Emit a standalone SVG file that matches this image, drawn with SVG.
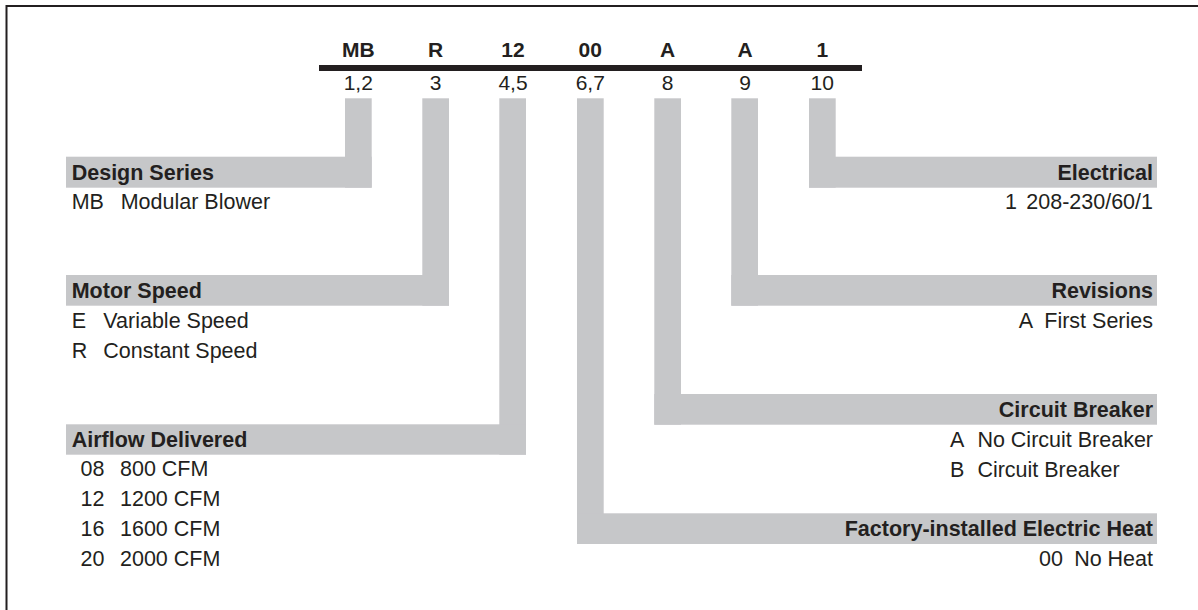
<svg xmlns="http://www.w3.org/2000/svg" width="1198" height="610" viewBox="0 0 1198 610">
<style>
text{font-family:"Liberation Sans",Arial,sans-serif;fill:#231f20;font-size:21.5px}
.b{font-weight:bold}
.code{font-size:21px}
.band{fill:#c6c7c9}
.e{text-anchor:end}
.m{text-anchor:middle}
</style>
<rect width="1198" height="610" fill="#fff"/>
<path d="M6.5,610 V6 H1198" fill="none" stroke="#231f20" stroke-width="2"/>
<g id="model-code">
<rect x="319" y="65" width="543" height="6" fill="#231f20"/>
<g class="code">
<text class="b m code" x="358.3" y="57.3">MB</text>
<text class="b m code" x="435.7" y="57.3">R</text>
<text class="b m code" x="513" y="57.3">12</text>
<text class="b m code" x="590.3" y="57.3">00</text>
<text class="b m code" x="667.7" y="57.3">A</text>
<text class="b m code" x="745" y="57.3">A</text>
<text class="b m code" x="822.3" y="57.3">1</text>
<text class="m code" x="358.3" y="89.5">1,2</text>
<text class="m code" x="435.7" y="89.5">3</text>
<text class="m code" x="513" y="89.5">4,5</text>
<text class="m code" x="590.3" y="89.5">6,7</text>
<text class="m code" x="667.7" y="89.5">8</text>
<text class="m code" x="745" y="89.5">9</text>
<text class="m code" x="822.3" y="89.5">10</text>
</g>
</g>
<g id="connectors" class="band">
<rect x="345" y="98.3" width="26.7" height="89.4"/>
<rect x="422.3" y="98.3" width="26.7" height="207.4"/>
<rect x="499.3" y="98.3" width="26.7" height="356.4"/>
<rect x="577" y="98.3" width="26.7" height="445.7"/>
<rect x="654.3" y="98.3" width="26.7" height="326.4"/>
<rect x="731.3" y="98.3" width="26.7" height="207.4"/>
<rect x="809" y="98.3" width="26.7" height="89.4"/>
</g>
<g id="design-series">
<rect class="band" x="66" y="156.7" width="305.7" height="31"/>
<text class="b" x="71.7" y="180">Design Series</text>
<text x="71.7" y="209">MB</text>
<text x="120.7" y="209">Modular Blower</text>
</g>
<g id="motor-speed">
<rect class="band" x="66" y="275" width="383" height="30.7"/>
<text class="b" x="71.7" y="298.3">Motor Speed</text>
<text x="71.7" y="327.5">E</text>
<text x="103.3" y="327.5">Variable Speed</text>
<text x="71.7" y="357.5">R</text>
<text x="103.3" y="357.5">Constant Speed</text>
</g>
<g id="airflow-delivered">
<rect class="band" x="66" y="424.3" width="460" height="30.4"/>
<text class="b" x="71.7" y="446.7">Airflow Delivered</text>
<text x="80.5" y="475.7">08</text>
<text x="120" y="475.7">800 CFM</text>
<text x="80.5" y="505.7">12</text>
<text x="120" y="505.7">1200 CFM</text>
<text x="80.5" y="535.7">16</text>
<text x="120" y="535.7">1600 CFM</text>
<text x="80.5" y="565.7">20</text>
<text x="120" y="565.7">2000 CFM</text>
</g>
<g id="electrical">
<rect class="band" x="809" y="156.7" width="348" height="31"/>
<text class="b e" x="1153" y="180">Electrical</text>
<text class="e" x="1017" y="209">1</text>
<text class="e" x="1153" y="209">208-230/60/1</text>
</g>
<g id="revisions">
<rect class="band" x="731.3" y="275" width="425.7" height="30.7"/>
<text class="b e" x="1153" y="298.3">Revisions</text>
<text class="e" x="1033" y="327.5">A</text>
<text class="e" x="1153" y="327.5">First Series</text>
</g>
<g id="circuit-breaker">
<rect class="band" x="654.3" y="394" width="502.7" height="30.7"/>
<text class="b e" x="1153" y="417.3">Circuit Breaker</text>
<text x="950" y="446.5">A</text>
<text x="977.4" y="446.5">No Circuit Breaker</text>
<text x="950" y="476.5">B</text>
<text x="977.4" y="476.5">Circuit Breaker</text>
</g>
<g id="electric-heat">
<rect class="band" x="577" y="513.3" width="580" height="30.7"/>
<text class="b e" x="1153" y="535.7">Factory-installed Electric Heat</text>
<text class="e" x="1063" y="565.7">00</text>
<text class="e" x="1153" y="565.7">No Heat</text>
</g>
</svg>
